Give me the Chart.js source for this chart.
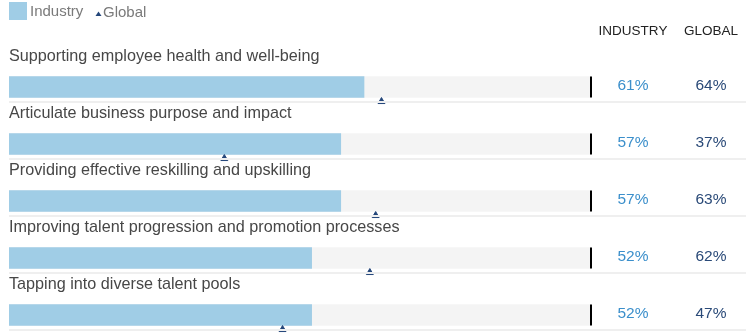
<!DOCTYPE html>
<html>
<head>
<meta charset="utf-8">
<script src="https://cdn.jsdelivr.net/npm/chart.js@4"></script>
<style>
  html, body { margin: 0; padding: 0; background: #fff; }
  #wrap { position: relative; width: 755px; height: 333px; }
</style>
</head>
<body>
<div id="wrap"><canvas id="chart"></canvas></div>
<script>
const categories = [
    'Supporting employee health and well-being',
    'Articulate business purpose and impact',
    'Providing effective reskilling and upskilling',
    'Improving talent progression and promotion processes',
    'Tapping into diverse talent pools'
];
const industry = [61, 57, 57, 52, 52];
const globalValues = [64, 37, 63, 62, 47];
const columnHeaders = ['INDUSTRY', 'GLOBAL'];
const legendLabels = ['Industry', 'Global'];

const FONT = '"Liberation Sans", Arial, Helvetica, sans-serif';
const ROW_PX = 57;       // distance between rows
const FIRST_ROW_PX = 87; // centre of the first bar
const H = 333;
const MARK_OFFSET = 0.255; // global marker sits just under the bar

const rows = categories.map((_, i) => i);

const textPlugin = {
    id: 'rowText',
    afterDatasetsDraw(chart) {
        const ctx = chart.ctx;
        const y = chart.scales.y;
        const left = chart.chartArea.left;
        ctx.save();

        // thin separator under each row, drawn over the marker like the original
        ctx.strokeStyle = '#efefef';
        ctx.lineWidth = 2;
        rows.forEach(i => {
            const py = Math.round(y.getPixelForValue(i + MARK_OFFSET));
            ctx.beginPath();
            ctx.moveTo(left, py);
            ctx.lineTo(746, py);
            ctx.stroke();
        });

        ctx.textBaseline = 'middle';

        // legend
        ctx.fillStyle = '#a0cde6';
        ctx.fillRect(left, 2, 18, 18);
        ctx.font = '15px ' + FONT;
        ctx.fillStyle = '#7a7a7a';
        ctx.textAlign = 'left';
        ctx.fillText(legendLabels[0], left + 21, 12);
        ctx.fillStyle = '#24467a';
        ctx.beginPath();
        ctx.moveTo(98.5, 11.5);
        ctx.lineTo(101.5, 16);
        ctx.lineTo(95.5, 16);
        ctx.closePath();
        ctx.fill();
        ctx.fillStyle = '#7a7a7a';
        ctx.fillText(legendLabels[1], 103, 12.5);

        // column headers
        ctx.font = '13.5px ' + FONT;
        ctx.fillStyle = '#222';
        ctx.textAlign = 'center';
        ctx.fillText(columnHeaders[0], 633, 31);
        ctx.fillText(columnHeaders[1], 711, 31);

        rows.forEach(i => {
            const py = y.getPixelForValue(i);
            ctx.font = '16.2px ' + FONT;
            ctx.textAlign = 'left';
            ctx.fillStyle = '#474747';
            ctx.fillText(categories[i], left, py - 30);
            ctx.font = '15.5px ' + FONT;
            ctx.textAlign = 'center';
            ctx.fillStyle = '#3b8fcb';
            ctx.fillText(industry[i] + '%', 633, py - 1);
            ctx.fillStyle = '#2a4a78';
            ctx.fillText(globalValues[i] + '%', 711, py - 1);
        });
        ctx.restore();
    }
};

new Chart(document.getElementById('chart'), {
    type: 'bar',
    data: {
        datasets: [
            {
                type: 'scatter',
                label: 'Global',
                data: rows.map(i => ({ x: globalValues[i], y: i + MARK_OFFSET })),
                pointStyle: 'triangle',
                pointRadius: 4,
                backgroundColor: '#24467a',
                borderColor: '#24467a',
                borderWidth: 1,
                clip: false,
                order: 0
            },
            {
                type: 'scatter',
                label: 'end',
                data: rows.map(i => ({ x: 100, y: i })),
                pointStyle: 'line',
                rotation: 90,
                pointRadius: 10.5,
                borderColor: '#000',
                borderWidth: 2,
                clip: false,
                order: 1
            },
            {
                label: 'Industry',
                data: rows.map(i => ({ x: industry[i], y: i })),
                backgroundColor: '#a0cde6',
                barThickness: 21,
                grouped: false,
                order: 2
            },
            {
                label: 'track',
                data: rows.map(i => ({ x: 100, y: i })),
                backgroundColor: '#f4f4f4',
                barThickness: 21,
                grouped: false,
                order: 3
            }
        ]
    },
    options: {
        indexAxis: 'y',
        responsive: true,
        maintainAspectRatio: false,
        animation: false,
        layout: { autoPadding: false, padding: { left: 9, right: 164, top: 0, bottom: 0 } },
        scales: {
            x: { type: 'linear', min: 0, max: 100, display: false },
            y: {
                type: 'linear',
                reverse: true,
                bounds: 'data',
                min: -FIRST_ROW_PX / ROW_PX,
                max: (H - FIRST_ROW_PX) / ROW_PX,
                offset: false,
                display: false
            }
        },
        plugins: {
            legend: { display: false },
            tooltip: { enabled: false }
        }
    },
    plugins: [textPlugin]
});
</script>
</body>
</html>
